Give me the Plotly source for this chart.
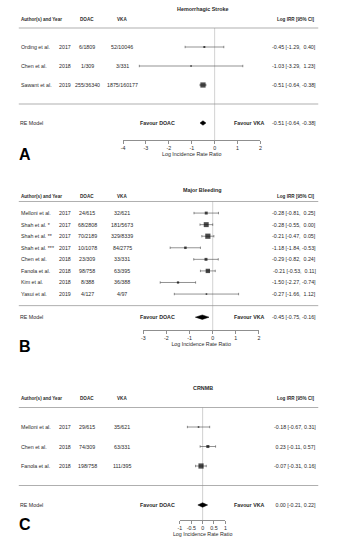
import plotly.graph_objects as go

# ---------------- data ----------------
# Panel A: Hemorrhagic Stroke
a_title = "Hemorrhagic Stroke"
a_studies = ["Ording et al.", "Chen et al.", "Sawant et al."]
a_years = ["2017", "2018", "2019"]
a_doac = ["6/1809", "1/309", "255/36340"]
a_vka = ["52/10046", "3/331", "1875/160177"]
a_est = [-0.45, -1.03, -0.51]
a_lo = [-1.29, -3.29, -0.64]
a_hi = [0.40, 1.23, -0.38]
a_re = [-0.51, -0.64, -0.38]          # estimate, lower, upper
a_ticks = [-4, -3, -2, -1, 0, 1, 2]

# Panel B: Major Bleeding
b_title = "Major Bleeding"
b_studies = ["Melloni et al.", "Shah et al. *", "Shah et al. **", "Shah et al. ***",
             "Chen et al.", "Fanola et al.", "Kim et al.", "Yasui et al."]
b_years = ["2017", "2017", "2017", "2017", "2018", "2018", "2018", "2019"]
b_doac = ["24/615", "68/2808", "70/2189", "10/1078", "23/309", "98/758", "8/388", "4/127"]
b_vka = ["32/621", "181/5673", "329/8339", "84/2775", "33/331", "63/395", "36/388", "4/97"]
b_est = [-0.28, -0.28, -0.21, -1.18, -0.29, -0.21, -1.50, -0.27]
b_lo = [-0.81, -0.55, -0.47, -1.84, -0.82, -0.53, -2.27, -1.66]
b_hi = [0.25, 0.00, 0.05, -0.53, 0.24, 0.11, -0.74, 1.12]
b_re = [-0.45, -0.75, -0.16]
b_ticks = [-3, -2, -1, 0, 1, 2]

# Panel C: CRNMB
c_title = "CRNMB"
c_studies = ["Melloni et al.", "Chen et al.", "Fanola et al."]
c_years = ["2017", "2018", "2018"]
c_doac = ["29/615", "74/309", "198/758"]
c_vka = ["35/621", "63/331", "111/395"]
c_est = [-0.18, 0.23, -0.07]
c_lo = [-0.67, -0.11, -0.31]
c_hi = [0.31, 0.57, 0.16]
c_re = [0.00, -0.21, 0.22]
c_ticks = [-1, -0.5, 0, 0.5, 1]

header_cols = ["Author(s) and Year", "DOAC", "VKA", "Log IRR [95% CI]"]
re_label = "RE Model"
favour_left = "Favour DOAC"
favour_right = "Favour VKA"
axis_title = "Log Incidence Rate Ratio"
letters = ["A", "B", "C"]

# ---------------- layout geometry (pixels) ----------------
W, H = 342, 550
FONT = "Liberation Sans, Arial, Helvetica, sans-serif"
FS = 5.3
TXT = "#2a2a2a"

panels = [
    dict(title=a_title, studies=a_studies, years=a_years, doac=a_doac, vka=a_vka,
         est=a_est, lo=a_lo, hi=a_hi, re=a_re, ticks=a_ticks,
         row0=28, pitch=19.0, axis_px=140, xpx=(122.5, 261.5), letter_y=154),
    dict(title=b_title, studies=b_studies, years=b_years, doac=b_doac, vka=b_vka,
         est=b_est, lo=b_lo, hi=b_hi, re=b_re, ticks=b_ticks,
         row0=201.5, pitch=11.57, axis_px=330, xpx=(143.0, 260.0), letter_y=346),
    dict(title=c_title, studies=c_studies, years=c_years, doac=c_doac, vka=c_vka,
         est=c_est, lo=c_lo, hi=c_hi, re=c_re, ticks=c_ticks,
         row0=407.5, pitch=19.5, axis_px=520, xpx=(180.0, 226.0), letter_y=524),
]


def fmt_col(vals):
    s = [f"{v:.2f}" for v in vals]
    w = max(len(t) for t in s)
    return ["\u00a0" * (w - len(t)) + t for t in s]


def px(x):
    return x / W


def py(y):
    return 1 - y / H


fig = go.Figure()
annotations = []
shapes = []


def ann(x, y, text, yref, xanchor="left", size=FS, bold=False, color=TXT):
    annotations.append(dict(
        x=px(x), xref="paper", y=y, yref=yref, text=f"<b>{text}</b>" if bold else text,
        showarrow=False, xanchor=xanchor, yanchor="middle",
        font=dict(family=FONT, size=size, color=color),
        borderpad=0, borderwidth=0))


for i, p in enumerate(panels, start=1):
    sfx = "" if i == 1 else str(i)
    xa, ya = "x" + sfx, "y" + sfx
    n = len(p["studies"])
    rows = list(range(1, n + 1))
    sep_row = n + 1
    re_row = n + 2
    bottom = (p["axis_px"] - p["row0"]) / p["pitch"]
    top = -1.25
    dom_top = p["row0"] + top * p["pitch"]

    # weights from CI width (inverse SE) -> square sizes
    se = [(h - l) / 3.92 for l, h in zip(p["lo"], p["hi"])]
    w = [1 / s for s in se]
    wmin, wmax = min(w), max(w)
    sizes = [1.6 + 3.6 * (v - wmin) / (wmax - wmin) for v in w]

    # confidence-interval whiskers
    fig.add_trace(go.Scatter(
        x=p["est"], y=rows, mode="markers", xaxis=xa, yaxis=ya,
        marker=dict(symbol="square", size=0.1, color="rgba(0,0,0,0)"),
        error_x=dict(type="data", symmetric=False,
                     array=[h - e for e, h in zip(p["est"], p["hi"])],
                     arrayminus=[e - l for e, l in zip(p["est"], p["lo"])],
                     thickness=0.6, width=1.2, color="#4a4a4a"),
        hoverinfo="skip", cliponaxis=False))
    # weighted squares on top
    fig.add_trace(go.Scatter(
        x=p["est"], y=rows, mode="markers", xaxis=xa, yaxis=ya,
        marker=dict(symbol="square", size=sizes, color="black", line=dict(width=0)),
        hoverinfo="skip", cliponaxis=False))

    # RE diamond
    est, lo, hi = p["re"]
    hh = 2.2 / p["pitch"]
    fig.add_trace(go.Scatter(
        x=[lo, est, hi, est, lo], y=[re_row, re_row - hh, re_row, re_row + hh, re_row],
        mode="lines", fill="toself", fillcolor="black",
        line=dict(color="black", width=0.5), xaxis=xa, yaxis=ya,
        hoverinfo="skip"))

    x0, x1 = p["xpx"]
    fig.layout["xaxis" + sfx] = dict(
        domain=[px(x0), px(x1)], range=[p["ticks"][0], p["ticks"][-1]],
        anchor=ya, tickvals=p["ticks"], ticktext=[f"{t:g}" for t in p["ticks"]],
        showline=True, linecolor="#444444", linewidth=0.6,
        ticks="outside", ticklen=3, tickwidth=0.6, tickcolor="#444444",
        showgrid=False, zeroline=False, fixedrange=True,
        tickfont=dict(family=FONT, size=FS, color=TXT),
        title=dict(text=axis_title, font=dict(family=FONT, size=FS, color=TXT), standoff=2))
    fig.layout["yaxis" + sfx] = dict(
        domain=[py(p["axis_px"]), py(dom_top)], range=[bottom, top],
        anchor=xa, visible=False, fixedrange=True)

    # lines
    for r in (0, sep_row):
        shapes.append(dict(type="line", xref="paper", yref=ya, x0=px(17), x1=px(320),
                           y0=r, y1=r, line=dict(color="#8c8c8c", width=0.7)))
    shapes.append(dict(type="line", xref=xa, yref=ya, x0=0, x1=0, y0=0, y1=bottom,
                       line=dict(color="#bdbdbd", width=0.7), layer="below"))

    # title and header
    ann(203, -1.0, p["title"], ya, "center", size=5.4, bold=True)
    ann(19.5, -0.45, header_cols[0], ya, "left", size=4.6, bold=True)
    ann(86.5, -0.45, header_cols[1], ya, "center", size=4.6, bold=True)
    ann(121.5, -0.45, header_cols[2], ya, "center", size=4.6, bold=True)
    ann(316, -0.45, header_cols[3], ya, "right", size=4.6, bold=True)

    # study rows
    all_e = p["est"] + [est]
    all_l = p["lo"] + [lo]
    all_h = p["hi"] + [hi]
    fe, fl, fh = fmt_col(all_e), fmt_col(all_l), fmt_col(all_h)
    res = [f"{a} [{b}, {c}]" for a, b, c in zip(fe, fl, fh)]
    for k, r in enumerate(rows):
        ann(19.5, r, p["studies"][k], ya, "left")
        ann(57.5, r, p["years"][k], ya, "left")
        ann(86.5, r, p["doac"][k], ya, "center")
        ann(121.5, r, p["vka"][k], ya, "center")
        ann(318, r, res[k], ya, "right")

    # RE row
    ann(18.5, re_row, re_label, ya, "left")
    ann(157, re_row, favour_left, ya, "center", bold=True)
    ann(250, re_row, favour_right, ya, "center", bold=True)
    ann(318, re_row, res[-1], ya, "right")

    # panel letter
    annotations.append(dict(x=px(17), xref="paper", y=py(p["letter_y"]), yref="paper",
                            text=f"<b>{letters[i-1]}</b>", showarrow=False,
                            xanchor="left", yanchor="middle", borderpad=0, borderwidth=0,
                            font=dict(family=FONT, size=16, color="black")))

fig.update_layout(
    width=W, height=H, autosize=False,
    margin=dict(l=0, r=0, t=0, b=0),
    paper_bgcolor="white", plot_bgcolor="white",
    showlegend=False, annotations=annotations, shapes=shapes,
)

fig.write_html("out.html", config={"displayModeBar": False, "staticPlot": True},
               post_script="document.body.style.margin='0';document.body.style.overflow='hidden';")
